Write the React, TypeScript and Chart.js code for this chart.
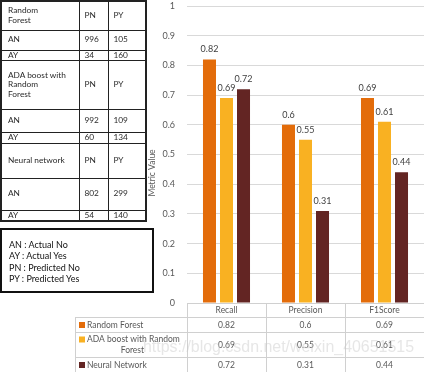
import React, { useEffect, useRef } from "react";
import { Chart, registerables } from "chart.js";

Chart.register(...registerables);

// ---- chart data ----
const categories = ["Recall", "Precision", "F1Score"];
const seriesNames = ["Random Forest", "ADA boost with Random Forest", "Neural Network"];
const seriesLabelLines = [["Random Forest"], ["ADA boost with Random", "Forest"], ["Neural Network"]];
const randomForest = [0.82, 0.6, 0.69];
const adaBoost = [0.69, 0.55, 0.61];
const neuralNetwork = [0.72, 0.31, 0.44];
const valueLabels = [
  ["0.82", "0.6", "0.69"],
  ["0.69", "0.55", "0.61"],
  ["0.72", "0.31", "0.44"],
];
const seriesColors = ["#E36C0A", "#F9B122", "#632523"];
const yTickLabels = ["0", "0.1", "0.2", "0.3", "0.4", "0.5", "0.6", "0.7", "0.8", "0.9", "1"];
const yAxisTitle = "Metric Value";
const watermark = "https://blog.csdn.net/weixin_40651515";

// ---- confusion matrices ----
const cmModelLines = [["Random", "Forest"], ["ADA boost with", "Random", "Forest"], ["Neural network"]];
const cmColHeaders = ["PN", "PY"];
const cmRowHeaders = ["AN", "AY"];
const cmRandomForest = [[996, 105], [34, 160]];
const cmAdaBoost = [[992, 109], [60, 134]];
const cmNeural = [[802, 299], [54, 140]];
const cmRowHeights = [[29, 20, 10], [49, 23, 9], [35, 32, 11]];
const abbreviations = ["AN : Actual No", "AY : Actual Yes", "PN : Predicted No", "PY : Predicted Yes"];

const FONT = "Lato, 'Open Sans', sans-serif";

const overlayPlugin = {
  id: "overlay",
  afterDraw(chart: any) {
    const ctx = chart.ctx;
    const area = chart.chartArea;
    ctx.save();
    // value labels above bars
    ctx.font = `9px ${FONT}`;
    ctx.fillStyle = "#404040";
    ctx.textAlign = "center";
    ctx.textBaseline = "middle";
    chart.data.datasets.forEach((ds: any, di: number) => {
      const meta = chart.getDatasetMeta(di);
      meta.data.forEach((el: any, i: number) => {
        ctx.fillText(valueLabels[di][i], el.x, el.y - 10);
      });
    });

    // y axis title
    ctx.save();
    ctx.translate(152, 173);
    ctx.rotate(-Math.PI / 2);
    ctx.font = `8.5px ${FONT}`;
    ctx.fillStyle = "#595959";
    ctx.fillText(yAxisTitle, 0, 0);
    ctx.restore();

    // data table
    const xs = chart.scales.x;
    const n = categories.length;
    const catW = (area.right - area.left) / n;
    const top = Math.round(area.bottom);
    const rowLines = [top + 14, top + 29, top + 54];
    const bottom = chart.height;
    const tableLeft = 75;
    ctx.strokeStyle = "#D0D0D0";
    ctx.lineWidth = 1;
    ctx.beginPath();
    ctx.moveTo(area.left, top + 0.5);
    ctx.lineTo(area.right, top + 0.5);
    rowLines.forEach((y) => {
      ctx.moveTo(tableLeft, y + 0.5);
      ctx.lineTo(area.right, y + 0.5);
    });
    ctx.moveTo(tableLeft + 0.5, rowLines[0]);
    ctx.lineTo(tableLeft + 0.5, bottom);
    for (let i = 0; i < n; i++) {
      const bx = Math.round(xs.getPixelForValue(i) - catW / 2) + 0.5;
      ctx.moveTo(bx, top);
      ctx.lineTo(bx, bottom);
    }
    ctx.stroke();

    ctx.font = `8.5px ${FONT}`;
    ctx.fillStyle = "#595959";
    ctx.textAlign = "center";
    categories.forEach((c, i) => {
      ctx.fillText(c, xs.getPixelForValue(i), top + 7.5);
    });
    const rowCenters = [
      (rowLines[0] + rowLines[1]) / 2 + 0.5,
      (rowLines[1] + rowLines[2]) / 2 + 0.5,
      (rowLines[2] + bottom) / 2 + 0.5,
    ];
    valueLabels.forEach((row, di) => {
      row.forEach((v, i) => {
        ctx.fillText(v, xs.getPixelForValue(i), rowCenters[di]);
      });
    });
    // legend cells
    seriesLabelLines.forEach((lines, di) => {
      const cy = rowCenters[di];
      const lh = 11;
      const y0 = cy - ((lines.length - 1) * lh) / 2;
      ctx.fillStyle = seriesColors[di];
      ctx.fillRect(79, y0 - 3, 6, 6);
      ctx.fillStyle = "#595959";
      ctx.textAlign = "left";
      ctx.fillText(lines[0], 87, y0);
      if (lines.length > 1) {
        const w = ctx.measureText(lines[0]).width;
        ctx.textAlign = "center";
        for (let k = 1; k < lines.length; k++) {
          ctx.fillText(lines[k], 87 + w / 2 - 1, y0 + k * lh);
        }
      }
    });

    // watermark
    ctx.font = `16px 'Liberation Sans', sans-serif`;
    ctx.fillStyle = "rgba(200,200,200,0.45)";
    ctx.textAlign = "left";
    ctx.fillText(watermark, 143, 348, 271);
    ctx.restore();
  },
};

function ConfusionTables() {
  const mats = [cmRandomForest, cmAdaBoost, cmNeural];
  const cell: React.CSSProperties = {
    border: "1px solid #222",
    padding: "0 0 0 5px",
    verticalAlign: "middle",
    lineHeight: "9.5px",
    overflow: "hidden",
  };
  return (
    <table
      style={{
        position: "absolute",
        left: 0,
        top: 0,
        width: 145,
        borderCollapse: "collapse",
        tableLayout: "fixed",
        border: "2px solid #222",
        fontFamily: FONT,
        fontSize: "8.3px",
        color: "#2a2a2a",
      }}
    >
      <colgroup>
        <col style={{ width: 78 }} />
        <col style={{ width: 29 }} />
        <col style={{ width: 38 }} />
      </colgroup>
      <tbody>
        {mats.map((m, mi) => (
          <React.Fragment key={mi}>
            <tr style={{ height: cmRowHeights[mi][0] }}>
              <td style={{ ...cell, paddingLeft: 6 }}>
                {cmModelLines[mi].map((l, k) => (
                  <div key={k}>{l}</div>
                ))}
              </td>
              <td style={cell}>{cmColHeaders[0]}</td>
              <td style={cell}>{cmColHeaders[1]}</td>
            </tr>
            {m.map((row, ri) => (
              <tr key={ri} style={{ height: cmRowHeights[mi][ri + 1] }}>
                <td style={{ ...cell, paddingLeft: 6 }}>{cmRowHeaders[ri]}</td>
                <td style={cell}>{row[0]}</td>
                <td style={cell}>{row[1]}</td>
              </tr>
            ))}
          </React.Fragment>
        ))}
      </tbody>
    </table>
  );
}

export default function App() {
  const canvasRef = useRef<HTMLCanvasElement | null>(null);

  useEffect(() => {
    if (!canvasRef.current) return;
    const chart = new Chart(canvasRef.current, {
      type: "bar",
      data: {
        labels: categories,
        datasets: [
          { label: seriesNames[0], data: randomForest, backgroundColor: seriesColors[0] },
          { label: seriesNames[1], data: adaBoost, backgroundColor: seriesColors[1] },
          { label: seriesNames[2], data: neuralNetwork, backgroundColor: seriesColors[2] },
        ],
      },
      options: {
        animation: false,
        responsive: false,
        devicePixelRatio: 1,
        font: { family: FONT },
        layout: { padding: { left: 150, right: 0, top: 6, bottom: 69 } },
        datasets: { bar: { categoryPercentage: 0.646, barPercentage: 0.765 } },
        plugins: { legend: { display: false }, tooltip: { enabled: false } },
        scales: {
          x: { display: false },
          y: {
            min: 0,
            max: 1,
            border: { display: false },
            grid: { color: "#D9D9D9", drawTicks: false },
            afterFit: (s: any) => {
              s.width = 37;
              s.paddingTop = 0;
              s.paddingBottom = 0;
            },
            ticks: {
              stepSize: 0.1,
              padding: 12,
              color: "#595959",
              font: { family: FONT, size: 9 },
              callback: (_v: any, i: number) => yTickLabels[i],
            },
          },
        },
      } as any,
      plugins: [overlayPlugin],
    });
    return () => chart.destroy();
  }, []);

  return (
    <div style={{ position: "fixed", left: 0, top: 0, width: 424, height: 372, background: "#fff" }}>
      <canvas ref={canvasRef} width={424} height={372} style={{ position: "absolute", left: 0, top: 0 }} />
      <ConfusionTables />
      <div
        style={{
          position: "absolute",
          left: 0,
          top: 228,
          width: 154,
          height: 65,
          boxSizing: "border-box",
          border: "2px solid #111",
          padding: "9px 0 0 7px",
          fontFamily: FONT,
          fontSize: "9px",
          lineHeight: "11.3px",
          color: "#111",
        }}
      >
        {abbreviations.map((a, i) => (
          <div key={i}>{a}</div>
        ))}
      </div>
    </div>
  );
}
